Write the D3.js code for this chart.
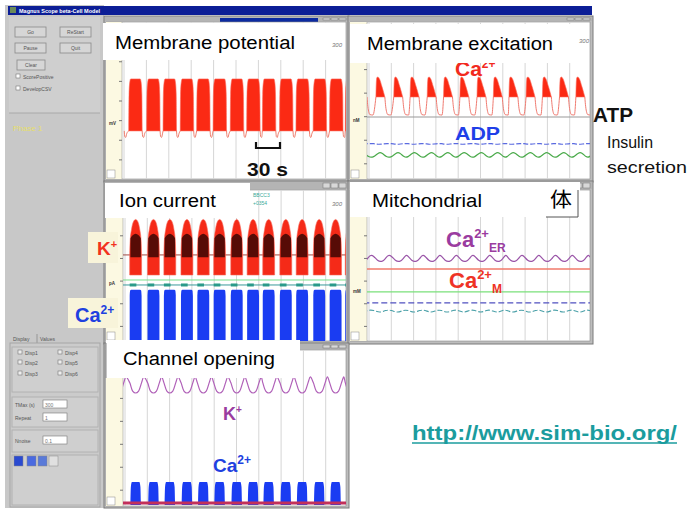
<!DOCTYPE html>
<html><head><meta charset="utf-8">
<script src="https://cdn.jsdelivr.net/npm/d3@7"></script>
<style>body{margin:0;background:#fff;} svg{display:block;font-family:"Liberation Sans",Arial,sans-serif;}</style>
</head><body><svg id="c" width="693" height="509"></svg>
<script>
// ---------------- DATA ----------------
const timeTicks = [0,30,60,90,120,150,180,210,240,270,300];       // s, grid every 30 s
const burstStarts = [9,33,55,78,100,122,145,167,188,211,233,256,278,299]; // s
// Membrane potential (mV), burst ~18 s
const vmSpikeTop   = [[0,-55],[0.4,-37],[1.3,-31],[2.6,-29],[15.4,-29],[16.7,-31],[17.6,-37],[18,-55]];
const vmSpikeFloor = -55.5;
const vmSilent     = [[18,-55.5],[18.8,-58.5],[20,-58.8],[21.2,-57]];
const vmTicks = [-70,-60,-50,-40,-30,-20,-10];
// Membrane excitation (normalised): cytosolic Ca2+, ATP, ADP, secretion
const caOffset = 3;
const caTop   = [[3,1.05],[3.4,1.2],[4.2,1.29],[5.5,1.30],[8,1.27],[11,1.18],[13.5,1.10],[15,1.045]];
const caFloor = 1.045;
const caSilent = [[15,1.045],[16.2,0.92],[17.5,0.85],[19,0.82],[23,0.815]];
const atpLevel = [0.79];
const adpWave = [[0,0.452],[6,0.440],[12,0.446],[18,0.452]];
const secretionWave = [[0,0.275],[6,0.335],[11,0.34],[17,0.275]];
// Ion current (pA), burst ~16 s
const kTop = [[0,-3],[0.6,6],[2.5,14],[5,19],[8,20.5],[11,19],[13.5,14],[15.4,6],[16,-3]];
const kFloor = -16.3;
const kDark = [[1,-4.5,8],[4,-4.5,10],[8,-4.5,11],[12,-4.5,10],[15,-4.5,8]];
const kSilentLevel = [-3];
const leakLevel = [-19.6];
const tealLevel = [-22.9];
const caCurrentTop = [[0,-30],[0.6,-26.5],[2,-26],[14,-26],[15.4,-26.5],[16,-30]];
const caCurrentFloor = -60;
// Mitochondria (normalised)
const erWave = [[0,0.565],[5,0.53],[11,0.523],[16,0.545],[19,0.57]];
const caMLevel = [0.477];
const mitoGreen = [0.325];
const mitoBlue = [0.252];
const mitoTealWave = [[0,0.205],[8,0.185],[16,0.205]];
// Channel opening (probability)
const kOpenWave = [[0,0.80],[4,0.745],[8,0.732],[12,0.745],[16,0.80],[19,0.837]];
const caOpenTop = [[1,0.02],[1.6,0.12],[3,0.15],[13,0.15],[14.4,0.12],[15,0.02]];
const caOpenBase = [0.013];
// ---------------------------------------------------------------

const svg = d3.select('#c');
const txt = (g,s,x,y,o={})=>{
  const t=g.append('text').attr('x',x).attr('y',y).text(s)
    .attr('font-size',o.fs||18).attr('fill',o.fill||'#000')
    .attr('font-weight',o.fw||'normal');
  if(o.w){t.attr('textLength',o.w).attr('lengthAdjust','spacingAndGlyphs');}
  if(o.style) t.attr('font-style',o.style);
  if(o.family) t.attr('font-family',o.family);
  return t;
};

// ---- left control panel ----
const lp = svg.append('g');
lp.append('rect').attr('x',5).attr('y',5).attr('width',99).attr('height',503).attr('fill','#c8c8c8');
lp.append('rect').attr('x',9).attr('y',17).attr('width',91).attr('height',96).attr('fill','#cfcfcf');
lp.append('line').attr('x1',9).attr('x2',100).attr('y1',113).attr('y2',113).attr('stroke','#a8a8a8');
const buttons=[['Go',15,27],['ReStart',60,27],['Pause',15,43],['Quit',60,43],['Clear',17,60]];
buttons.forEach(([s,x,y])=>{
  lp.append('rect').attr('x',x).attr('y',y).attr('width',x===17?28:31).attr('height',10).attr('fill','#d6d6d6').attr('stroke','#8a8a8a').attr('stroke-width',0.8);
  txt(lp,s,x+(x===17?14:15.5),y+7,{fs:5,fill:'#555'}).attr('text-anchor','middle');
});
[['ScorePositive',77],['DevelopCSV',89]].forEach(([s,y])=>{
  lp.append('rect').attr('x',16).attr('y',y-3).attr('width',4).attr('height',4).attr('fill','#fff').attr('stroke','#777').attr('stroke-width',0.6);
  txt(lp,s,23,y+1.5,{fs:5,fill:'#555'});
});
txt(lp,'Phase  1',13,131,{fs:8,fill:'#e6df6a'});
txt(lp,'Display',13,341,{fs:5,fill:'#555'});
txt(lp,'Values',40,341,{fs:5,fill:'#555'});
lp.append('line').attr('x1',37).attr('x2',37).attr('y1',334).attr('y2',343).attr('stroke','#777').attr('stroke-width',0.6);
lp.append('rect').attr('x',10).attr('y',343).attr('width',90).attr('height',164).attr('fill','#cbcbcb').attr('stroke','#a5a5a5');
[[12,347,45],[12,397,30],[12,430,22],[12,455,50]].forEach(([x,y,h])=>lp.append('rect').attr('x',x).attr('y',y).attr('width',86).attr('height',h).attr('fill','#cfcfcf').attr('stroke','#b2b2b2'));
[['Disp1',18,353],['Disp2',18,363],['Disp3',18,374],['Disp4',58,353],['Disp5',58,363],['Disp6',58,374]].forEach(([s,x,y])=>{
  lp.append('rect').attr('x',x).attr('y',y-3).attr('width',4).attr('height',4).attr('fill','#eee').attr('stroke','#777').attr('stroke-width',0.6);
  txt(lp,s,x+7,y+1.5,{fs:5,fill:'#555'});
});
[['TMax (s)','300',405],['Repeat','1',418],['Nnoise','0.1',441]].forEach(([s,v,y])=>{
  txt(lp,s,15,y+1.5,{fs:5,fill:'#555'});
  lp.append('rect').attr('x',43).attr('y',y-5).attr('width',24).attr('height',8).attr('fill','#fff').attr('stroke','#777').attr('stroke-width',0.6);
  txt(lp,v,45,y+1.5,{fs:5,fill:'#777'});
});
[['#2a4ad0',14],['#4a6ae0',27],['#5a7ad8',38],['#e0e0e0',49]].forEach(([c,x])=>lp.append('rect').attr('x',x).attr('y',456).attr('width',9).attr('height',10).attr('fill',c).attr('stroke','#888').attr('stroke-width',0.5));

// main title bar
svg.append('rect').attr('x',8).attr('y',6).attr('width',584).attr('height',9).attr('fill','#0c1e96');
svg.append('rect').attr('x',10).attr('y',7).attr('width',6).attr('height',6).attr('fill','#6a8a5a');
txt(svg,'Magnus Scope beta-Cell Model',19,13,{fs:5.5,fill:'#fff',fw:'bold'});

// ---- panels ----
function panel(p){
  const g=svg.append('g');
  g.append('rect').attr('x',p.x0).attr('y',p.y0).attr('width',p.x1-p.x0).attr('height',p.y1-p.y0).attr('fill','#bdbdbd').attr('stroke','#7a7a7a');
  g.append('rect').attr('x',p.x0+1).attr('y',p.y0+1).attr('width',p.x1-p.x0-2).attr('height',p.iy0-p.y0-2).attr('fill','#b4b4b4');
  if(p.blue) g.append('rect').attr('x',p.blue[0]).attr('y',p.y0+2).attr('width',p.blue[1]-p.blue[0]).attr('height',4).attr('fill','#0c2aa0');
  for(let k=0;k<3;k++) g.append('rect').attr('x',p.x1-26+k*8).attr('y',p.y0+2).attr('width',7).attr('height',p.iy0-p.y0-4).attr('fill','#d8d8d8').attr('stroke','#707070').attr('stroke-width',0.5);
  g.append('rect').attr('x',p.ix0).attr('y',p.iy0).attr('width',p.ix1-p.ix0).attr('height',p.iy1-p.iy0).attr('fill','#fff').attr('stroke','#8a8a8a').attr('stroke-width',0.6);
  g.append('rect').attr('x',p.ix0).attr('y',p.iy0).attr('width',p.px-p.ix0).attr('height',p.iy1-p.iy0).attr('fill','#fcf9e2');
  g.append('line').attr('x1',p.px).attr('x2',p.px).attr('y1',p.iy0).attr('y2',p.iy1).attr('stroke','#9a9a9a').attr('stroke-width',0.6);
  const id='clip'+p.id;
  svg.append('clipPath').attr('id',id).append('rect').attr('x',p.px).attr('y',p.iy0).attr('width',p.ix1-p.px).attr('height',p.iy1-p.iy0);
  const x=d3.scaleLinear().domain([0,300]).range([p.px,p.ix1]);
  const pg=g.append('g').attr('clip-path',`url(#${id})`);
  pg.selectAll('line.grid').data(timeTicks).join('line').attr('class','grid')
    .attr('x1',d=>x(d)+2).attr('x2',d=>x(d)+2).attr('y1',p.iy0).attr('y2',p.iy1).attr('stroke','#d6d6d6').attr('stroke-width',1);
  const ax=g.append('g').attr('transform',`translate(${p.px},0)`).call(d3.axisLeft(p.y).tickValues(p.ticks).tickSize(3).tickFormat(''));
  ax.select('.domain').remove(); ax.selectAll('line').attr('stroke','#777');
  txt(g,p.unit,p.ix0+3,p.unitY,{fs:4.5,fill:'#333',fw:'bold'});
  g.append('rect').attr('x',p.ix0+1).attr('y',p.iy1-9).attr('width',8).attr('height',8).attr('fill','#fff').attr('stroke','#888').attr('stroke-width',0.5);
  return {g,pg,x,y:p.y};
}
function areaOf(P){return d3.area().x(d=>P.x(d[0])).y0(d=>P.y(d[1])).y1(d=>P.y(d[2])).curve(d3.curveMonotoneX);}
function lineOf(P,curve){return d3.line().x(d=>P.x(d[0])).y(d=>P.y(d[1])).curve(curve||d3.curveMonotoneX);}
const period = burstStarts[1]-burstStarts[0];
const allStarts = [burstStarts[0]-period].concat(burstStarts);
function bursts(shape,floor){return burstStarts.map(s=>shape.map(([dt,v])=>[s+dt,floor,v]));}
function darkBand(shape){return burstStarts.map(s=>shape.map(([dt,lo,hi])=>[s+dt,lo,hi]));}
function silent(shape,floor,offset){
  return allStarts.map((s,i)=>{
    const next=(i+1<allStarts.length?allStarts[i+1]:s+period)+offset;
    const pts=shape.map(([dt,v])=>[s+dt,v]).filter(d=>d[0]<next-0.4);
    pts.push([next,floor]);
    return pts;
  });
}
function wave(shape){
  const pts=[];
  allStarts.concat([burstStarts[burstStarts.length-1]+period]).forEach(s=>shape.forEach(([dt,v])=>pts.push([s+dt,v])));
  return pts.sort((a,b)=>a[0]-b[0]);
}
const flat=(lv)=>[[-5,lv[0]],[310,lv[0]]];

// Panel 1: membrane potential
const P1=panel({id:1,x0:104,y0:16,x1:349,y1:182,ix0:106,iy0:22,ix1:346,iy1:179,px:122,
  y:d3.scaleLinear().domain([-80,0]).range([179,22]),ticks:vmTicks,unit:'mV',unitY:125,blue:[220,318]});
P1.pg.selectAll('path.sil').data(silent(vmSilent,vmSpikeFloor,0)).join('path').attr('d',lineOf(P1)).attr('fill','none').attr('stroke','#f08070').attr('stroke-width',1);
P1.pg.selectAll('path.b').data(bursts(vmSpikeTop,vmSpikeFloor)).join('path').attr('d',areaOf(P1)).attr('fill','#fb2a14').attr('stroke','#fb6a5a').attr('stroke-width',0.6);

// Panel 2: membrane excitation
const P2=panel({id:2,x0:348,y0:16,x1:593,y1:182,ix0:350,iy0:22,ix1:590,iy1:179,px:367,
  y:d3.scaleLinear().domain([0,2]).range([179,22]),ticks:[0.2,0.5,0.8,1.1,1.4,1.7],unit:'nM',unitY:122});
P2.pg.append('path').datum(flat(atpLevel)).attr('d',lineOf(P2)).attr('stroke','#9a9a9a').attr('stroke-width',1.2).attr('fill','none');
P2.pg.selectAll('path.sil').data(silent(caSilent,caFloor,caOffset)).join('path').attr('d',lineOf(P2)).attr('fill','none').attr('stroke','#f07a70').attr('stroke-width',1);
P2.pg.selectAll('path.b').data(bursts(caTop,caFloor)).join('path').attr('d',areaOf(P2)).attr('fill','#fb2a14').attr('stroke','#fb6a5a').attr('stroke-width',0.6);
P2.pg.append('path').datum(wave(adpWave)).attr('d',lineOf(P2,d3.curveBasis)).attr('fill','none').attr('stroke','#5a6ae0').attr('stroke-width',1.2).attr('stroke-dasharray','5,2');
P2.pg.append('path').datum(wave(secretionWave)).attr('d',lineOf(P2,d3.curveBasis)).attr('fill','none').attr('stroke','#4aaa4a').attr('stroke-width',1.2);
const caLbl=txt(svg,'Ca',455,76,{fs:21,fill:'#f22a1e',fw:'bold'});
caLbl.append('tspan').attr('dy',-8).attr('font-size',12).text('2+');

// Panel 3: ion current
const P3=panel({id:3,x0:104,y0:181,x1:349,y1:344,ix0:106,iy0:190,ix1:346,iy1:341,px:123,
  y:d3.scaleLinear().domain([-60,40]).range([341,190]),ticks:[-50,-35,-20,-5,10,25],unit:'pA',unitY:285});
P3.pg.append('path').datum(flat(kSilentLevel)).attr('d',lineOf(P3)).attr('stroke','#a04a40').attr('stroke-width',1).attr('fill','none');
P3.pg.selectAll('path.b').data(bursts(kTop,kFloor)).join('path').attr('d',areaOf(P3)).attr('fill','#f52a18').attr('stroke','#f86a5a').attr('stroke-width',0.6);
P3.pg.selectAll('path.dk').data(darkBand(kDark)).join('path').attr('d',areaOf(P3)).attr('fill','#1a0000').attr('opacity',0.72);
P3.pg.append('path').datum(flat(leakLevel)).attr('d',lineOf(P3)).attr('stroke','#7ae08a').attr('stroke-width',1).attr('fill','none');
P3.pg.append('path').datum(flat(tealLevel)).attr('d',lineOf(P3)).attr('stroke','#3a9a9a').attr('stroke-width',1).attr('fill','none');
P3.pg.selectAll('path.td').data(burstStarts.map(s=>[[s,tealLevel[0]],[s+9,tealLevel[0]]])).join('path').attr('d',lineOf(P3,d3.curveLinear)).attr('stroke','#2a9a8a').attr('stroke-width',3);
P3.pg.selectAll('path.ca').data(bursts(caCurrentTop,caCurrentFloor)).join('path').attr('d',areaOf(P3)).attr('fill','#1a3cf2');
txt(svg,'BBCC3',253,197,{fs:5,fill:'#3aaa9a'});
txt(svg,'+0354',253,205,{fs:5,fill:'#3aaa9a'});

// Panel 4: mitochondria
const P4=panel({id:4,x0:348,y0:181,x1:593,y1:344,ix0:350,iy0:190,ix1:590,iy1:341,px:367,
  y:d3.scaleLinear().domain([0,1]).range([341,190]),ticks:[0.1,0.25,0.4,0.55,0.7,0.85],unit:'mM',unitY:293});
P4.pg.append('path').datum(wave(erWave)).attr('d',lineOf(P4,d3.curveBasis)).attr('fill','none').attr('stroke','#9a55a8').attr('stroke-width',1.2);
P4.pg.append('path').datum(flat(caMLevel)).attr('d',lineOf(P4)).attr('stroke','#f07a6a').attr('stroke-width',1.5).attr('fill','none');
P4.pg.append('path').datum(flat(mitoGreen)).attr('d',lineOf(P4)).attr('stroke','#7ae07a').attr('stroke-width',1.2).attr('fill','none');
P4.pg.append('path').datum(flat(mitoBlue)).attr('d',lineOf(P4)).attr('stroke','#5050c0').attr('stroke-width',1.2).attr('stroke-dasharray','6,3').attr('fill','none');
P4.pg.append('path').datum(wave(mitoTealWave)).attr('d',lineOf(P4,d3.curveBasis)).attr('fill','none').attr('stroke','#4aa0a8').attr('stroke-width',1.1).attr('stroke-dasharray','5,2');

// Panel 5: channel opening
const P5=panel({id:5,x0:104,y0:343,x1:349,y1:508,ix0:106,iy0:350,ix1:346,iy1:506,px:123,
  y:d3.scaleLinear().domain([0,1]).range([505,352]),ticks:[0.1,0.25,0.4,0.55,0.7,0.85],unit:'',unitY:430});
P5.pg.append('path').datum(wave(kOpenWave)).attr('d',lineOf(P5,d3.curveCatmullRom)).attr('fill','none').attr('stroke','#b060b8').attr('stroke-width',1.2);
P5.pg.selectAll('path.b').data(bursts(caOpenTop,0)).join('path').attr('d',areaOf(P5)).attr('fill','#1a3cf2');
P5.pg.append('path').datum(flat(caOpenBase)).attr('d',lineOf(P5)).attr('stroke','#c2305a').attr('stroke-width',3).attr('fill','none');

// small "300" tags
[[337,47],[584,43],[337,206]].forEach(([x,y])=>txt(svg,'300',x,y,{fs:6,fill:'#777',style:'italic'}).attr('text-anchor','middle'));

// ---- white title boxes ----
const box=(x,y,w,h)=>svg.append('rect').attr('x',x).attr('y',y).attr('width',w).attr('height',h).attr('fill','#fff');
box(103,23,225,37); txt(svg,'Membrane potential',115,49,{fs:18,w:180});
box(350,24,228,39); txt(svg,'Membrane excitation',367,50,{fs:18,w:186});
box(105,183,145,35); txt(svg,'Ion current',119,207,{fs:18,w:97});
box(350,182,230,35); txt(svg,'Mitchondrial',372,207,{fs:18,w:110});
svg.append('path').attr('d','M546,217 H578 V190').attr('fill','none').attr('stroke','#555');
txt(svg,'体',550,207,{fs:20,w:22,family:'Noto Sans CJK JP'});
box(106,340,194,38); svg.append('line').attr('x1',106).attr('x2',106).attr('y1',343).attr('y2',378).attr('stroke','#888');
txt(svg,'Channel opening',123,365,{fs:18,w:152});

// ---- annotations ----
svg.append('path').attr('d','M256,142 V148 H280 V142').attr('fill','none').attr('stroke','#111').attr('stroke-width',2.2);
txt(svg,'30 s',247,176,{fs:19,fw:'bold',w:41,fill:'#111'});
txt(svg,'ATP',593,122,{fs:20,fw:'bold',w:40,fill:'#111'});
txt(svg,'Insulin',607,148,{fs:17,w:46,fill:'#111'});
txt(svg,'secretion',607,173,{fs:17,w:80,fill:'#111'});
txt(svg,'ADP',455,140,{fs:18,fw:'bold',w:45,fill:'#1f3fe8'});
svg.append('rect').attr('x',88).attr('y',232).attr('width',30).attr('height',31).attr('fill','#f8f4da');
const kl=txt(svg,'K',97,255,{fs:19,fw:'bold',fill:'#f2321e'}); kl.append('tspan').attr('dy',-7).attr('font-size',11).text('+');
svg.append('rect').attr('x',68).attr('y',298).attr('width',50).attr('height',30).attr('fill','#f8f4da');
const cl=txt(svg,'Ca',75,322,{fs:20,fw:'bold',fill:'#2040e0'}); cl.append('tspan').attr('dy',-8).attr('font-size',12).text('2+');
const er=txt(svg,'Ca',446,247,{fs:22,fw:'bold',fill:'#9a3ca0'});
er.append('tspan').attr('dy',-9).attr('font-size',13).text('2+');
er.append('tspan').attr('dy',14).attr('font-size',12).text('ER');
const cm=txt(svg,'Ca',449,288,{fs:22,fw:'bold',fill:'#ee3326'});
cm.append('tspan').attr('dy',-9).attr('font-size',13).text('2+');
cm.append('tspan').attr('dy',14).attr('font-size',12).text('M');
const k5=txt(svg,'K',223,420,{fs:18,fw:'bold',fill:'#9a3ca0'}); k5.append('tspan').attr('dy',-7).attr('font-size',10).text('+');
const c5=txt(svg,'Ca',213,472,{fs:19,fw:'bold',fill:'#2040e0'}); c5.append('tspan').attr('dy',-8).attr('font-size',12).text('2+');
txt(svg,'http://www.sim-bio.org/',412,440,{fs:21,fw:'bold',w:265,fill:'#1b9c9e'});
svg.append('line').attr('x1',412).attr('x2',677).attr('y1',443).attr('y2',443).attr('stroke','#1b9c9e').attr('stroke-width',1.6);
</script></body></html>
